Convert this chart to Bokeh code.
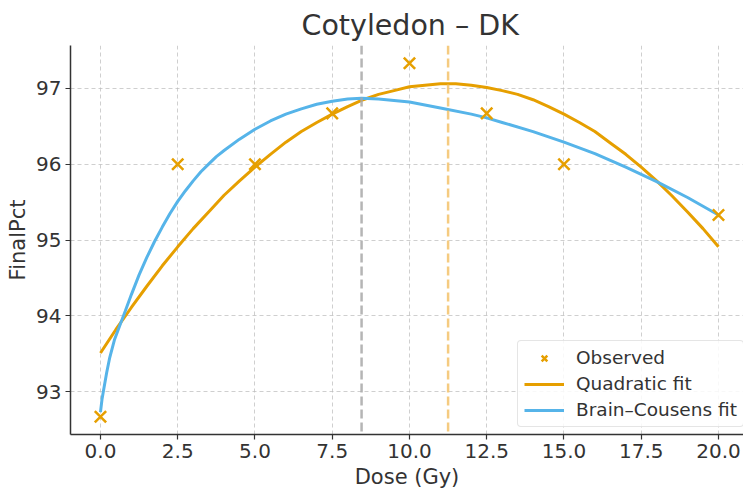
from bokeh.plotting import figure
from bokeh.models import Span, Legend, LegendItem, Range1d
from bokeh.embed import file_html
from bokeh.resources import INLINE

# Observed data
dose_obs = [0.0, 2.5, 5.0, 7.5, 10.0, 12.5, 15.0, 20.0]
pct_obs = [92.67, 96.0, 96.0, 96.67, 97.33, 96.67, 96.0, 95.33]

# Quadratic fit
quad_x = [0, 0.5, 1, 1.5, 2, 2.5, 3, 3.5, 4, 4.5, 5, 5.5, 6, 6.5, 7, 7.5, 8, 8.5, 9, 9.5,
          10, 10.5, 11, 11.5, 12, 12.5, 13, 13.5, 14, 14.5, 15, 15.5, 16, 16.5, 17, 17.5,
          18, 18.5, 19, 19.5, 20]
quad_y = [93.51, 93.82, 94.11, 94.39, 94.66, 94.91, 95.15, 95.37, 95.59, 95.78, 95.96,
          96.13, 96.29, 96.43, 96.55, 96.66, 96.76, 96.85, 96.92, 96.97, 97.02, 97.04,
          97.06, 97.06, 97.04, 97.01, 96.97, 96.92, 96.85, 96.76, 96.66, 96.55, 96.43,
          96.28, 96.13, 95.96, 95.78, 95.58, 95.37, 95.15, 94.91]

# Brain-Cousens fit
bc_x = [0.0, 0.05, 0.1, 0.2, 0.3, 0.45, 0.65, 0.8, 1.0, 1.25, 1.5, 1.75, 2.0, 2.25, 2.5,
        2.75, 3.0, 3.25, 3.5, 3.75, 4.0, 4.5, 5.0, 5.5, 6.0, 6.5, 7.0, 7.5, 8.0, 8.45,
        9.0, 10.0, 11.0, 12.0, 12.5, 13.0, 14.0, 15.0, 16.0, 17.0, 18.0, 19.0, 20.0]
bc_y = [92.73, 92.9, 93.02, 93.25, 93.45, 93.68, 93.9, 94.06, 94.28, 94.54, 94.77,
        94.98, 95.17, 95.35, 95.51, 95.65, 95.78, 95.9, 96.0, 96.1, 96.18, 96.33, 96.46,
        96.57, 96.66, 96.73, 96.79, 96.83, 96.86, 96.87, 96.86, 96.82, 96.74, 96.66,
        96.61, 96.55, 96.43, 96.29, 96.14, 95.96, 95.77, 95.56, 95.33]

# Reference dose lines
bc_peak = 8.45
quad_peak = 11.25

ORANGE = "#E69F00"
BLUE = "#56B4E9"
TXT = "#333333"

p = figure(width=743, height=492, output_backend="svg", toolbar_location=None,
           x_range=Range1d(-0.97, 20.81), y_range=Range1d(92.435, 97.565),
           title="Cotyledon \u2013 DK", min_border_left=70, min_border_top=45,
           min_border_right=0, min_border_bottom=58)
p.outline_line_color = None
p.title.text_font = "DejaVu Sans"
p.title.text_font_style = "normal"
p.title.text_font_size = "28.5px"
p.title.text_color = TXT
p.title.align = "left"
p.title.offset = 231
p.title.standoff = 8

for ax in (p.xaxis, p.yaxis):
    ax.axis_label_text_font = "DejaVu Sans"
    ax.axis_label_text_font_style = "normal"
    ax.axis_label_text_font_size = "21px"
    ax.axis_label_text_color = TXT
    ax.major_label_text_font = "DejaVu Sans"
    ax.major_label_text_font_size = "20px"
    ax.major_label_text_color = TXT
    ax.axis_line_color = TXT
    ax.axis_line_width = 1.5
    ax.major_tick_line_color = TXT
    ax.major_tick_line_width = 1.2
    ax.major_tick_out = 5
    ax.major_tick_in = 0
    ax.minor_tick_line_color = None

p.xaxis.major_label_standoff = 4
p.xaxis.axis_label_standoff = 4
p.yaxis.major_label_standoff = 4
p.yaxis.axis_label_standoff = 3

p.xaxis.axis_label = "Dose (Gy)"
p.yaxis.axis_label = "FinalPct"
p.xaxis.ticker = [0, 2.5, 5, 7.5, 10, 12.5, 15, 17.5, 20]
p.xaxis.major_label_overrides = {0: "0.0", 2.5: "2.5", 5: "5.0", 7.5: "7.5", 10: "10.0",
                                 12.5: "12.5", 15: "15.0", 17.5: "17.5", 20: "20.0"}
p.yaxis.ticker = [93, 94, 95, 96, 97]

for g in (p.xgrid, p.ygrid):
    g.grid_line_color = "#bbbbbb"
    g.grid_line_dash = "4 3"
    g.grid_line_width = 1
    g.grid_line_alpha = 0.7

p.add_layout(Span(location=bc_peak, dimension="height", line_color="#a8a8a8",
                  line_dash="9 4", line_width=2.5, line_alpha=0.85))
p.add_layout(Span(location=quad_peak, dimension="height", line_color="#f3c26a",
                  line_dash="9 4", line_width=2.5, line_alpha=0.85))

r_quad = p.line(quad_x, quad_y, line_color=ORANGE, line_width=3)
r_bc = p.line(bc_x, bc_y, line_color=BLUE, line_width=3)
r_obs = p.scatter(dose_obs, pct_obs, marker="x", size=16, line_color=ORANGE, line_width=2.5)

legend = Legend(items=[LegendItem(label="Observed", renderers=[r_obs]),
                       LegendItem(label="Quadratic fit", renderers=[r_quad]),
                       LegendItem(label="Brain\u2013Cousens fit", renderers=[r_bc])],
                location=(447, 7))
legend.label_text_font = "DejaVu Sans"
legend.label_text_font_size = "18.5px"
legend.label_text_color = TXT
legend.border_line_color = "#cccccc"
legend.border_line_width = 1
legend.border_radius = 4
legend.background_fill_alpha = 0.85
legend.glyph_width = 40
legend.label_standoff = 12
legend.spacing = 5
legend.padding = 6
legend.margin = 0
p.add_layout(legend)

open("out.html", "w").write(file_html(p, INLINE))
